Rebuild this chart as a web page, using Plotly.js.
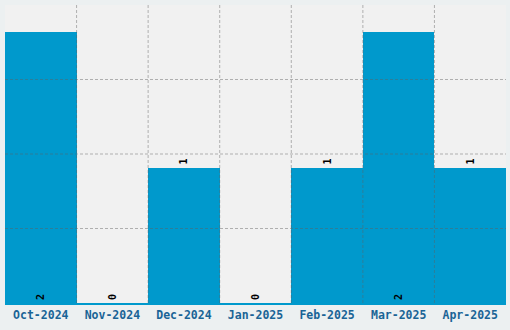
<!DOCTYPE html>
<html>
<head>
<meta charset="utf-8">
<script src="https://cdn.plot.ly/plotly-3.0.1.min.js"></script>
<style>html,body{margin:0;padding:0;background:#ecf0f1;}#chart{width:510px;height:330px;}</style>
</head>
<body>
<div id="chart"></div>
<script>
const categories = ["Oct-2024","Nov-2024","Dec-2024","Jan-2025","Feb-2025","Mar-2025","Apr-2025"];
const values = [2, 0, 1, 0, 1, 2, 1];
const labelPositions = ["inside","outside","outside","outside","outside","inside","outside"];
const yMax = 2.2;
const gridCount = 4;

const shapes = [];
const gridStyle = {color: "rgba(95,95,95,0.45)", width: 1, dash: "3px,2px"};
for (let k = 1; k < gridCount; k++) {
  shapes.push({type: "line", xref: "paper", yref: "y", x0: 0, x1: 1,
    y0: yMax * k / gridCount, y1: yMax * k / gridCount, line: gridStyle, layer: "above"});
}
for (let i = 0; i < categories.length - 1; i++) {
  shapes.push({type: "line", xref: "x", yref: "paper", x0: i + 0.5, x1: i + 0.5,
    y0: 0, y1: 1, line: gridStyle, layer: "above"});
}

const trace = {
  type: "bar",
  x: categories.map((c, i) => i),
  y: values,
  text: values.map(String),
  textposition: labelPositions,
  insidetextanchor: "start",
  textangle: -90,
  cliponaxis: false,
  textfont: {family: "DejaVu Sans Mono", size: 10, color: "#000", weight: "bold"},
  marker: {color: "#0099cc", line: {width: 0}},
  hoverinfo: "none"
};

const layout = {
  width: 510, height: 330,
  margin: {l: 5, r: 4, t: 5, b: 27, pad: 0},
  paper_bgcolor: "#ecf0f1",
  plot_bgcolor: "#f1f1f1",
  bargap: 0,
  showlegend: false,
  xaxis: {
    tickmode: "array",
    tickvals: categories.map((c, i) => i),
    ticktext: categories,
    range: [-0.5, categories.length - 0.5],
    showgrid: false, zeroline: false,
    showline: true, linecolor: "#0099cc", linewidth: 2,
    ticks: "", ticklen: 0,
    tickfont: {family: "DejaVu Sans Mono", size: 11.5, color: "#1a6496", weight: "bold"},
    fixedrange: true
  },
  yaxis: {
    range: [0, yMax],
    showgrid: false, zeroline: false, showline: false,
    showticklabels: false, ticks: "",
    fixedrange: true
  },
  shapes: shapes
};

Plotly.newPlot("chart", [trace], layout, {displayModeBar: false, staticPlot: true});
</script>
</body>
</html>
